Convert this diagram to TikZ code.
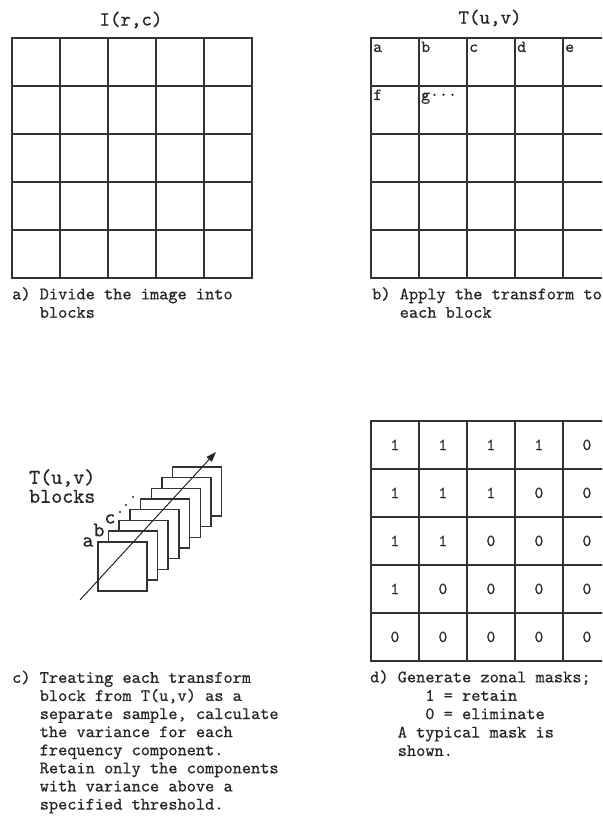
\documentclass[tikz,border=0pt]{standalone}
\usepackage{fontspec}
\setmonofont{lmmono10-regular.otf}[FakeBold=0.6]
\usetikzlibrary{arrows.meta}
\tikzset{
  cellbox/.style={draw=black!80, line width=1.8pt, minimum size=48pt, inner sep=0pt, anchor=north west},
  blk/.style={draw=black!80, fill=white, line width=1.5pt, minimum size=49pt, inner sep=0pt, anchor=north west},
  captxt/.style={anchor=north west, inner sep=0pt, align=left, text=black!85, font=\ttfamily\fontsize{17.5}{18.4}\selectfont},
  captxtc/.style={captxt, font=\ttfamily\fontsize{17.5}{18.1}\selectfont},
  ttl/.style={inner sep=0pt, text=black!85, font=\ttfamily\fontsize{20}{22}\selectfont},
  celltxt/.style={inner sep=0pt, text=black!85, font=\ttfamily\fontsize{17}{18}\selectfont},
  lettxt/.style={inner sep=0pt, anchor=base west, text=black!85, font=\ttfamily\fontsize{17}{18}\selectfont},
  bigtxt/.style={inner sep=0pt, text=black!85, font=\ttfamily\fontsize{21}{19}\selectfont},
}
\begin{document}
\begin{tikzpicture}[x=1pt,y=-1pt]
\clip (0,0) rectangle (602,816);
\fill[white] (0,0) rectangle (602,816);

% ---------- a) image grid
\node[ttl] (titleA) at (131,20) {I(r,c)};
\foreach \r in {0,...,4} {
  \foreach \c in {0,...,4} {
    \node[cellbox] (A-\r-\c) at (11+48*\c, 37+48*\r) {};
  }
}
\node[captxt] (capA) at (12,287) {a) Divide the image into\\\hphantom{a) }blocks};

% ---------- b) transform grid
\node[ttl] (titleB) at (490,18) {T(u,v)};
\foreach \r in {0,...,4} {
  \foreach \c in {0,...,4} {
    \node[cellbox] (B-\r-\c) at (370+48*\c, 37+48*\r) {};
  }
}
\node[lettxt] (la) at ([shift={(3pt,-15pt)}]B-0-0.north west) {a};
\node[lettxt] (lb) at ([shift={(3pt,-15pt)}]B-0-1.north west) {b};
\node[lettxt] (lc) at ([shift={(3pt,-15pt)}]B-0-2.north west) {c};
\node[lettxt] (ld) at ([shift={(3pt,-15pt)}]B-0-3.north west) {d};
\node[lettxt] (le) at ([shift={(3pt,-15pt)}]B-0-4.north west) {e};
\node[lettxt] (lf) at ([shift={(3pt,-15pt)}]B-1-0.north west) {f};
\node[lettxt] (lg) at ([shift={(3pt,-15pt)}]B-1-1.north west) {g\textperiodcentered\textperiodcentered\textperiodcentered};
\node[captxt] (capB) at (372,287) {b) Apply the transform to\\\hphantom{b) }each block};

% ---------- c) stacked blocks
\foreach \k in {7,6,...,0} {
  \node[blk] (S\k) at (97+10.7*\k, 541-10.7*\k) {};
}
\coordinate (arrS) at (80,600);
\coordinate (arrE) at (216,452);
\draw[black!85, line width=1pt, -{Triangle[length=10pt,width=7pt]}] (arrS) -- (arrE);
\node[bigtxt, anchor=north west, align=left] (tuvb) at (29,469) {T(u,v)\\blocks};
\node[bigtxt] (sa) at (88,542) {a};
\node[bigtxt] (sb) at (99,530) {b};
\node[bigtxt] (sc) at (110,519) {c};
\fill[black!85] (120,512) circle (1.2pt) (126,505) circle (1.2pt) (133,497) circle (1.2pt);
\node[captxtc] (capC) at (12,670.5) {c) Treating each transform\\
\hphantom{c) }block from T(u,v) as a\\
\hphantom{c) }separate sample, calculate\\
\hphantom{c) }the variance for each\\
\hphantom{c) }frequency component.\\
\hphantom{c) }Retain only the components\\
\hphantom{c) }with variance above a\\
\hphantom{c) }specified threshold.};

% ---------- d) zonal mask
\foreach \r in {0,...,4} {
  \foreach \c in {0,...,4} {
    \pgfmathtruncatemacro{\v}{(\r+\c<4) ? 1 : 0}
    \node[cellbox] (D-\r-\c) at (370+48*\c, 420+48*\r) {};
    \node[celltxt] (Dt-\r-\c) at (D-\r-\c.center) {\v};
  }
}
\node[captxt] (capD) at (370,670) {d) Generate zonal masks;\\
\hphantom{d) Gen}1 = retain\\
\hphantom{d) Gen}0 = eliminate\\
\hphantom{d) }A typical mask is\\
\hphantom{d) }shown.};
\end{tikzpicture}
\end{document}
